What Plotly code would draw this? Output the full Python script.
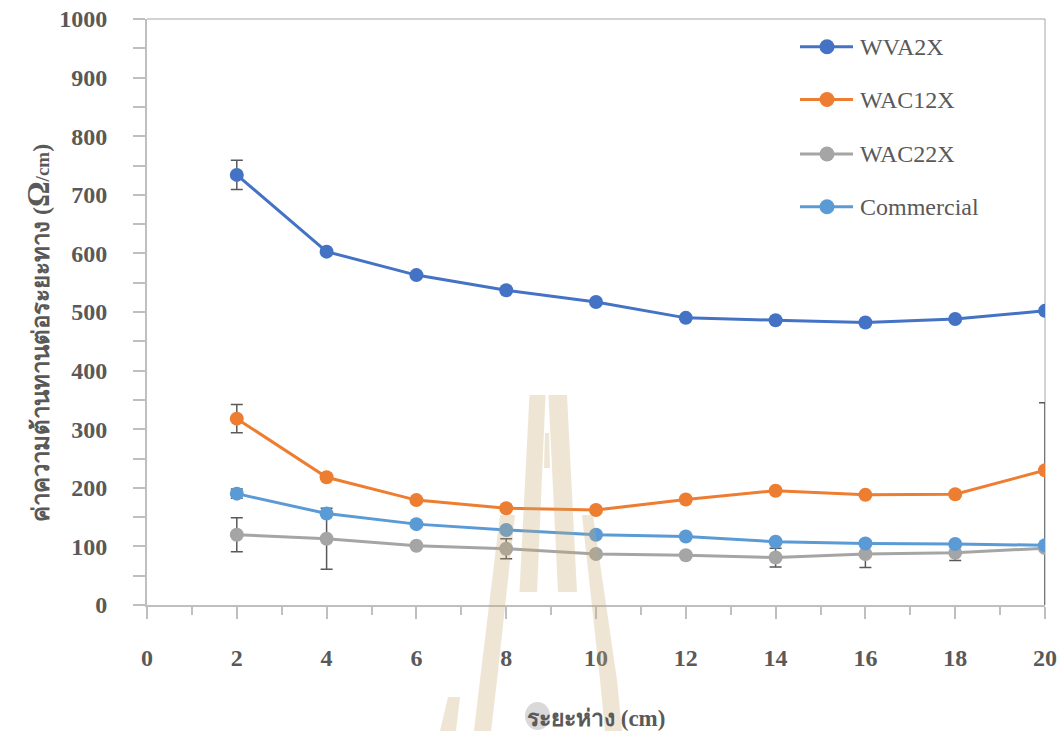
import plotly.graph_objects as go

# Spacing between electrodes (cm)
distance = [2, 4, 6, 8, 10, 12, 14, 16, 18, 20]

# Resistance per unit length (ohm/cm)
wva2x = [734, 603, 563, 537, 517, 490, 486, 482, 488, 502]
wac12x = [318, 218, 179, 165, 162, 180, 195, 188, 189, 230]
wac22x = [120, 113, 101, 96, 87, 85, 81, 87, 89, 97]
commercial = [190, 156, 138, 128, 120, 117, 108, 105, 104, 102]

# Error bar half-widths (None = no bar shown)
wva2x_err = [25, None, None, None, None, None, None, None, None, None]
wac12x_err_plus = [24, None, None, None, None, None, None, None, None, 115]
wac12x_err_minus = [24, None, None, None, None, None, None, None, None, 240]
wac22x_err = [29, 52, None, 17, 5, None, 16, 23, 13, None]
commercial_err = [8, None, None, None, None, None, None, None, None, None]

series_names = ["WVA2X", "WAC12X", "WAC22X", "Commercial"]
series_colors = ["#4472C4", "#ED7D31", "#A5A5A5", "#5B9BD5"]

x_ticks = [0, 2, 4, 6, 8, 10, 12, 14, 16, 18, 20]
y_ticks = [0, 100, 200, 300, 400, 500, 600, 700, 800, 900, 1000]

x_title = "ระยะห่าง (cm)"
y_title_main = "ค่าความต้านทานต่อระยะทาง"

TEXT = "#595959"
AXIS = "#BFBFBF"
SERIF = "Liberation Serif, Times New Roman, serif"

# figure geometry in pixels
W, H = 1063, 731
L, R, T, B = 147, 1045, 19, 605


def px(xp):
    return (xp - L) / (R - L)


def py(yp):
    return (B - yp) / (B - T)


fig = go.Figure()

values = [wva2x, wac12x, wac22x, commercial]
errs = [
    dict(array=wva2x_err),
    dict(array=wac12x_err_plus, arrayminus=wac12x_err_minus, symmetric=False),
    dict(array=wac22x_err),
    dict(array=commercial_err),
]
for name, col, vals, e in zip(series_names, series_colors, values, errs):
    fig.add_trace(go.Scatter(
        x=distance, y=vals, name=name, mode="lines+markers",
        line=dict(color=col, width=3),
        marker=dict(color=col, size=14),
        error_y=dict(type="data", visible=True, color="#595959",
                     thickness=1.5, width=6, **e),
        showlegend=False,
    ))

shapes = []

# plot-area frame on the top and right
shapes.append(dict(type="path", xref="paper", yref="paper",
                   path="M0,1 L1,1 L1,0",
                   line=dict(color="#A6A6A6", width=1), layer="below"))

# legend drawn as line + marker + label
legend_rows = [46.7, 99.5, 154, 206.7]
for name, col, yy in zip(series_names, series_colors, legend_rows):
    shapes.append(dict(type="line", xref="paper", yref="paper",
                       x0=px(800), x1=px(853), y0=py(yy), y1=py(yy),
                       line=dict(color=col, width=3)))
    r = 7.5
    shapes.append(dict(type="circle", xref="paper", yref="paper",
                       x0=px(827 - r), x1=px(827 + r),
                       y0=py(yy + r), y1=py(yy - r),
                       fillcolor=col, line=dict(width=0)))
    fig.add_annotation(x=px(858), y=py(yy), xref="paper", yref="paper",
                       text=name, showarrow=False, xanchor="left",
                       yanchor="middle",
                       font=dict(family=SERIF, size=24, color=TEXT))


# faint emblem behind the chart
def poly(points):
    s = "M" + " L".join(f"{px(a):.4f},{py(b):.4f}" for a, b in points) + " Z"
    return s


emblem = [
    # tower, left and right halves
    [(529.5, 395), (545.5, 395), (537, 592), (519.5, 592)],
    [(548.5, 395), (567, 395), (577, 592), (558, 592)],
    [(545, 433), (549, 433), (550, 468), (544, 468)],
    # outer arches
    [(500, 515), (515, 515), (497, 680), (491, 731), (474, 731), (480, 680)],
    [(582, 515), (593, 515), (617, 680), (622, 731), (605, 731), (600, 680)],
    # lower stroke
    [(448, 697), (460, 697), (456, 731), (440, 731)],
]
for pts in emblem:
    shapes.append(dict(type="path", xref="paper", yref="paper",
                       path=poly(pts), fillcolor="rgb(200,168,115)",
                       opacity=0.3, line=dict(width=0), layer="above"))

shapes.append(dict(type="circle", xref="paper", yref="paper",
                   x0=px(525), x1=px(550), y0=py(730), y1=py(702),
                   fillcolor="#D9D9D9", line=dict(width=0), layer="below"))

fig.update_layout(
    width=W, height=H,
    margin=dict(l=L, r=W - R, t=T, b=H - B, pad=0, autoexpand=False),
    paper_bgcolor="white", plot_bgcolor="white",
    shapes=shapes,
    font=dict(family=SERIF, color=TEXT),
)

fig.update_xaxes(
    automargin=False,
    range=[0, 20], tickvals=x_ticks, ticktext=[str(v) for v in x_ticks],
    showgrid=False, zeroline=False, showline=True,
    linecolor=AXIS, linewidth=2,
    ticks="outside", ticklen=12, tickwidth=1.5, tickcolor=AXIS,
    minor=dict(dtick=1, ticks="outside", ticklen=8, tickwidth=1.5,
               tickcolor=AXIS, showgrid=False),
    tickfont=dict(family=SERIF, size=24, color=TEXT, weight="bold"),
    ticklabelstandoff=18,
)
fig.update_yaxes(
    automargin=False,
    range=[0, 1000], tickvals=y_ticks, ticktext=[str(v) for v in y_ticks],
    showgrid=False, zeroline=False, showline=True,
    linecolor=AXIS, linewidth=2,
    ticks="outside", ticklen=12, tickwidth=1.5, tickcolor=AXIS,
    minor=dict(dtick=50, ticks="outside", ticklen=12, tickwidth=1.5,
               tickcolor=AXIS, showgrid=False),
    tickfont=dict(family=SERIF, size=24, color=TEXT, weight="bold"),
    ticklabelstandoff=21,
)

fig.add_annotation(
    x=px(596), y=py(718), xref="paper", yref="paper", showarrow=False,
    xanchor="center", yanchor="middle",
    text=f"<b>{x_title}</b>",
    font=dict(family=SERIF, size=23, color=TEXT),
)
fig.add_annotation(
    x=px(38), y=py(333), xref="paper", yref="paper", showarrow=False,
    xanchor="center", yanchor="middle",
    textangle=-90,
    text=(f"<b>{y_title_main} (<span style='font-size:32px'>Ω</span>"
          f"<span style='font-size:19px'>/cm</span>)</b>"),
    font=dict(family=SERIF, size=24, color=TEXT),
)

fig.write_html("out.html")
